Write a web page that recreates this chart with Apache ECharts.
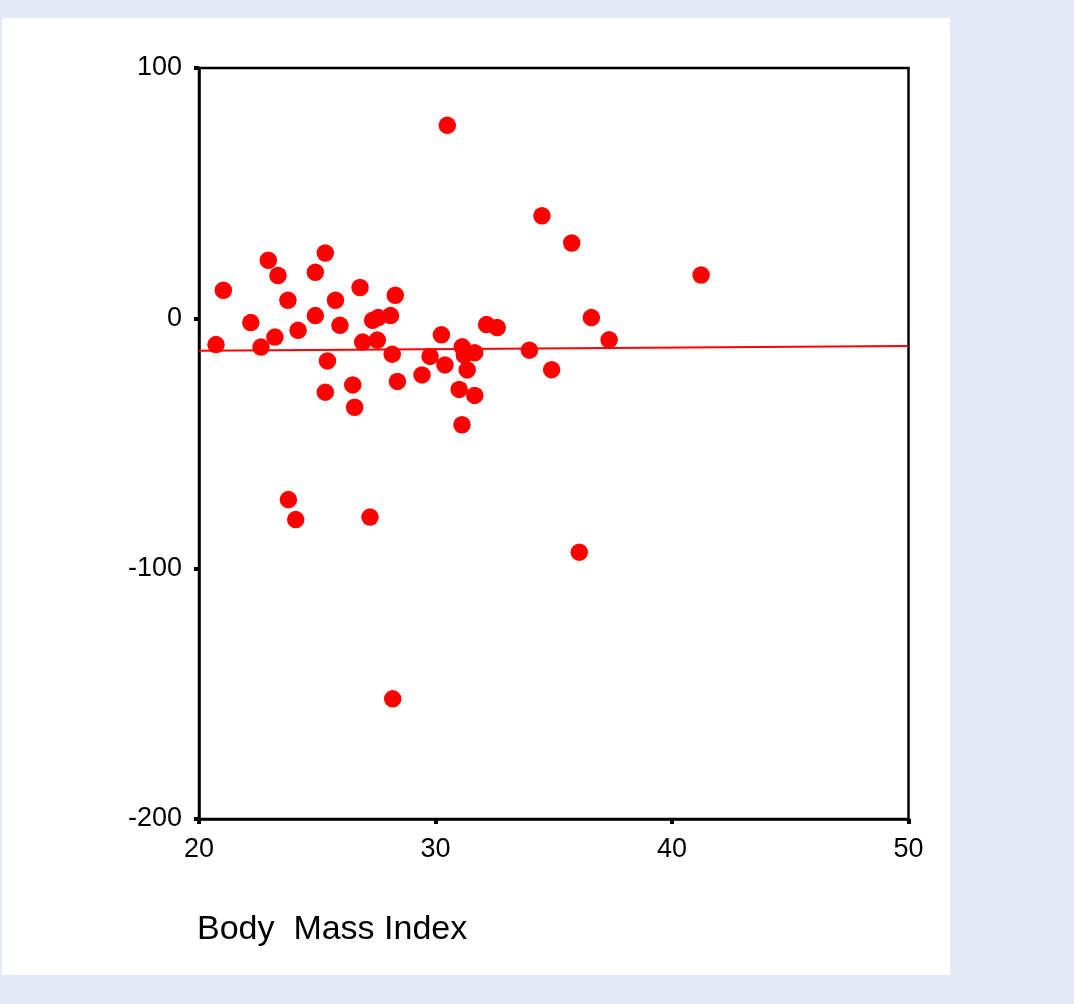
<!DOCTYPE html>
<html>
<head>
<meta charset="utf-8">
<title>Body Mass Index</title>
<script src="https://cdn.jsdelivr.net/npm/echarts@6/dist/echarts.min.js"></script>
<style>
  html, body { margin: 0; padding: 0; background: #e5e9f5; }
  #chart { width: 1074px; height: 1004px; }
</style>
</head>
<body>
<div id="chart"></div>
<script>
// Body mass index of each subject
const bmi = [
  20.72, 21.03, 22.19, 22.62, 22.93, 23.34, 23.21, 23.76, 23.78, 24.09,
  24.19, 24.92, 24.92, 25.34, 25.43, 25.34, 25.77, 25.96, 26.50, 26.58,
  26.81, 26.92, 27.23, 27.34, 27.58, 27.54, 28.10, 28.30, 28.17, 28.39,
  28.19, 29.43, 29.77, 30.25, 30.40, 30.50, 31.00, 31.12, 31.13, 31.22,
  31.34, 31.66, 31.66, 32.16, 32.61, 33.97, 34.50, 34.91, 35.76, 36.08,
  36.59, 37.34, 41.23
];
// Residual value for each subject (same order)
const residual = [
  -10.5, 11.2, -1.7, -11.5, 23.2, 17.1, -7.5, 7.2, -72.4, -80.4,
  -4.8, 1.1, 18.4, 26.1, -17.0, -29.5, 7.2, -2.8, -26.6, -35.5,
  12.3, -9.5, -79.4, -0.8, 0.3, -8.7, 1.1, 9.2, -14.3, -25.2,
  -152.0, -22.6, -15.2, -6.6, -18.6, 77.1, -28.4, -42.5, -11.4, -14.7,
  -20.6, -13.7, -30.8, -2.5, -3.7, -12.7, 41.0, -20.5, 30.1, -93.4,
  0.3, -8.6, 17.3
];
// Fitted trend line end points
const fitX = [20, 50];
const fitY = [-12.9, -11.1];
// Axis ticks
const xTicks = [20, 30, 40, 50];
const yTicks = [-200, -100, 0, 100];

const points = bmi.map((x, i) => [x, residual[i]]);
const fitLine = fitX.map((x, i) => [x, fitY[i]]);

const FONT = '"Liberation Sans", Arial, Helvetica, sans-serif';

const chart = echarts.init(document.getElementById('chart'), null, { renderer: 'canvas' });
chart.setOption({
  backgroundColor: '#e5e9f5',
  animation: false,
  graphic: [
    {
      type: 'rect',
      shape: { x: 2, y: 18, width: 948, height: 957 },
      style: { fill: '#ffffff' },
      z: -10,
      silent: true
    },
    {
      type: 'text',
      left: 197,
      top: 913,
      style: {
        text: 'Body  Mass Index',
        font: '34px ' + FONT,
        fill: '#000000'
      }
    }
  ],
  grid: {
    left: 199,
    top: 68,
    right: 165.5,
    bottom: 185,
    show: true,
    backgroundColor: '#ffffff',
    borderColor: '#000000',
    borderWidth: 2.5
  },
  xAxis: {
    type: 'value',
    min: xTicks[0],
    max: xTicks[xTicks.length - 1],
    interval: 10,
    axisLine: { show: true, onZero: false, lineStyle: { color: '#000', width: 2.5 } },
    axisTick: { show: true, length: 5, lineStyle: { color: '#000', width: 4 } },
    axisLabel: { color: '#000', fontSize: 27, fontFamily: FONT, margin: 17 },
    splitLine: { show: false }
  },
  yAxis: {
    type: 'value',
    min: yTicks[0],
    max: yTicks[yTicks.length - 1],
    interval: 100,
    axisLine: { show: true, onZero: false, lineStyle: { color: '#000', width: 2.5 } },
    axisTick: { show: true, length: 5, lineStyle: { color: '#000', width: 4 } },
    axisLabel: { color: '#000', fontSize: 27, fontFamily: FONT, margin: 17, padding: [6, 0, 0, 0] },
    splitLine: { show: false }
  },
  series: [
    {
      type: 'line',
      data: fitLine,
      symbol: 'none',
      lineStyle: { color: '#ff0000', width: 2 },
      z: 2,
      silent: true
    },
    {
      type: 'scatter',
      data: points,
      symbol: 'circle',
      symbolSize: 17.5,
      itemStyle: { color: '#ff0000', opacity: 1 },
      z: 3
    }
  ]
});
</script>
</body>
</html>
